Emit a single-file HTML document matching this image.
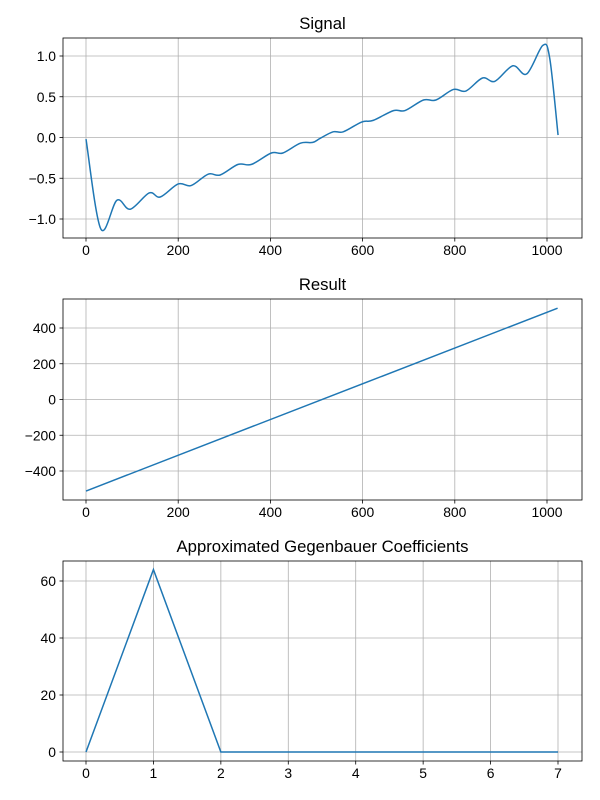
<!DOCTYPE html>
<html><head><meta charset="utf-8"><style>
body{margin:0;background:#fff}
svg{display:block;font-family:"Liberation Sans","DejaVu Sans",sans-serif}
</style></head><body>
<svg id="fig" width="600" height="800"></svg>
<script>
const sigX=[0,32,67,96,137,161,200,228,265,291,330,359,402,427,465,492,508,536,558,598,623,667,692,732,759,797,824,860,887,926,956,991,1006,1024];
const sigY=[-0.02,-1.12,-0.77,-0.88,-0.68,-0.73,-0.57,-0.59,-0.45,-0.46,-0.33,-0.33,-0.19,-0.19,-0.07,-0.06,-0.01,0.07,0.07,0.19,0.21,0.33,0.33,0.46,0.46,0.59,0.57,0.73,0.69,0.88,0.78,1.13,0.97,0.03];
const sigXTicks=[0,200,400,600,800,1000];
const sigYTicks=[-1.0,-0.5,0.0,0.5,1.0];
// Result
const resX=[0,1023];
const resY=[-512,511];
const resXTicks=[0,200,400,600,800,1000];
const resYTicks=[-400,-200,0,200,400];
// Coefficients
const coefX=[0,1,2,3,4,5,6,7];
const coefY=[0,64,0,0,0,0,0,0];
const coefYTicks=[0,20,40,60];

const NS="http://www.w3.org/2000/svg";
const svg=document.getElementById('fig');
function el(tag,attrs,parent){const e=document.createElementNS(NS,tag);for(const k in attrs)e.setAttribute(k,attrs[k]);(parent||svg).appendChild(e);return e;}
function lin(d0,d1,r0,r1){return v=>r0+(v-d0)*(r1-r0)/(d1-d0);}

function panel(name,box,xs,ys,xt,yt,xd,yd,title,fmtY,smooth){
  const g=el('g',{});
  
  
  const L=box[0],T=box[1],R=box[2],B=box[3];
  for(const t of xt){const x=xs(t);
    const gl=el('line',{x1:x,x2:x,y1:T,y2:B,stroke:'#b0b0b0','stroke-width':0.8},g);
    
    el('line',{x1:x,x2:x,y1:B,y2:B+3.5,stroke:'#000','stroke-width':0.8},g);
    const tx=el('text',{x:x,y:B+17,'text-anchor':'middle','font-size':13.9},g);
    tx.textContent=String(t);
    
  }
  for(const t of yt){const y=ys(t);
    const gl=el('line',{x1:L,x2:R,y1:y,y2:y,stroke:'#b0b0b0','stroke-width':0.8},g);
    
    el('line',{x1:L-3.5,x2:L,y1:y,y2:y,stroke:'#000','stroke-width':0.8},g);
    const tx=el('text',{x:L-7,y:y+5,'text-anchor':'end','font-size':13.9},g);
    tx.textContent=fmtY(t).replace('-','\u2212');
    
  }
  const pts=xd.map((v,i)=>[xs(v),ys(yd[i])]);
  let d='M'+pts[0][0]+','+pts[0][1];
  if(smooth){
    for(let i=0;i<pts.length-1;i++){
      const p0=pts[Math.max(0,i-1)],p1=pts[i],p2=pts[i+1],p3=pts[Math.min(pts.length-1,i+2)];
      const c1=[p1[0]+(p2[0]-p0[0])/6,p1[1]+(p2[1]-p0[1])/6];
      const c2=[p2[0]-(p3[0]-p1[0])/6,p2[1]-(p3[1]-p1[1])/6];
      d+=' C'+c1+' '+c2+' '+p2;
    }
  } else for(let i=1;i<pts.length;i++) d+=' L'+pts[i][0]+','+pts[i][1];
  const ln=el('path',{d:d,fill:'none',stroke:'#1f77b4','stroke-width':1.5},g);
  
  el('rect',{x:L,y:T,width:R-L,height:B-T,fill:'none',stroke:'#000','stroke-width':0.8},g);
  const tt=el('text',{x:(L+R)/2,y:T-9,'text-anchor':'middle','font-size':16.7},g);
  tt.textContent=title;
  
}
const fx=lin(0,1000,86,547);
panel('signal-panel',[63,38,582,238],fx,lin(0,1,137.5,56),sigXTicks,sigYTicks,sigX,sigY,'Signal',v=>v.toFixed(1),true);
panel('result-panel',[63,299,582,500],fx,lin(0,400,399.5,328),resXTicks,resYTicks,resX,resY,'Result',v=>String(v),false);
panel('coefficients-panel',[63,561,582,761],lin(0,7,86,558),lin(0,60,752,581),coefX,coefYTicks,coefX,coefY,'Approximated Gegenbauer Coefficients',v=>String(v),false);
</script>
</body></html>
